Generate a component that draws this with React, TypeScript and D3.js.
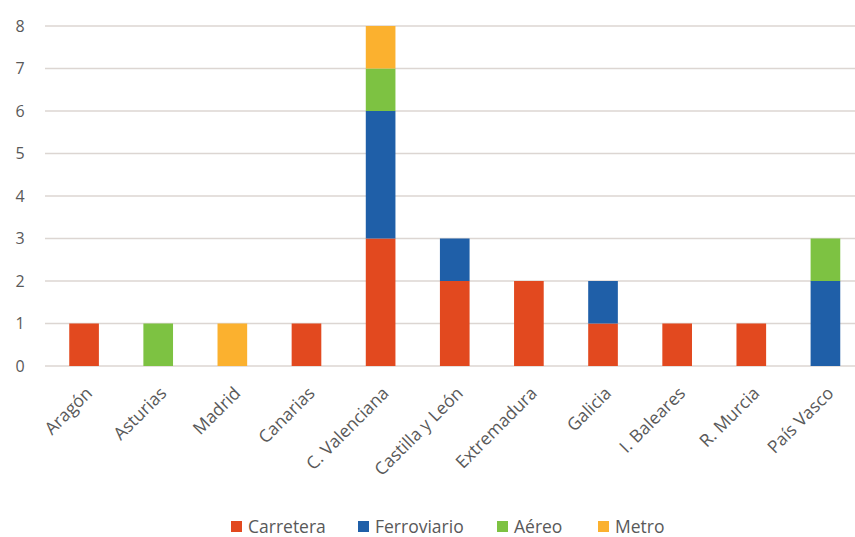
import React from "react";
import * as d3 from "d3";

const categories = ["Aragón", "Asturias", "Madrid", "Canarias", "C. Valenciana", "Castilla y León", "Extremadura", "Galicia", "I. Baleares", "R. Murcia", "País Vasco"];
const seriesNames = ["Carretera", "Ferroviario", "Aéreo", "Metro"];
const carretera = [1, 0, 0, 1, 3, 2, 2, 1, 1, 1, 0];
const ferroviario = [0, 0, 0, 0, 3, 1, 0, 1, 0, 0, 2];
const aereo = [0, 1, 0, 0, 1, 0, 0, 0, 0, 0, 1];
const metro = [0, 0, 1, 0, 1, 0, 0, 0, 0, 0, 0];
const yTicks = [0, 1, 2, 3, 4, 5, 6, 7, 8];
const colors = ["#E2491F", "#1F5FA8", "#7DC242", "#FBB12F"];

const W = 855, H = 537;
const left = 47, right = 862.5, top = 26, bottom = 366;

export default function App() {
  const x = d3.scaleBand().domain(categories).range([left, right]).paddingInner(0.6).paddingOuter(0.3);
  const y = d3.scaleLinear().domain([0, 8]).range([bottom, top]);
  const rows = categories.map((c, i) => ({ cat: c, Carretera: carretera[i], Ferroviario: ferroviario[i], "Aéreo": aereo[i], Metro: metro[i] }));
  const stacked = d3.stack<any>().keys(seriesNames)(rows);
  const font = "'Open Sans', sans-serif";
  const legendX = [231, 358, 497, 598];
  return (
    <svg width={W} height={H} style={{ position: "absolute", left: 0, top: 0, background: "#fff" }}>
      {yTicks.map((t) => (
        <g key={t}>
          <line x1={left - 2} x2={W} y1={y(t)} y2={y(t)} stroke="#dcd6d2" strokeWidth={1.3} />
          <text x={20} y={y(t)} dy="0.35em" textAnchor="middle" fontFamily={font} fontSize={16} fill="#595959">{t}</text>
        </g>
      ))}
      {stacked.map((s, si) => (
        <g key={s.key} fill={colors[si]}>
          {s.map((d, i) => d[1] > d[0] ? (
            <rect key={i} x={x(categories[i])!} width={x.bandwidth()} y={y(d[1])} height={y(d[0]) - y(d[1])} />
          ) : null)}
        </g>
      ))}
      {categories.map((c) => {
        const cx = x(c)! + x.bandwidth() / 2 + 5;
        return (
          <text key={c} transform={`translate(${cx},${bottom + 24}) rotate(-45)`} textAnchor="end" dy="0.35em" fontFamily={font} fontSize={17.5} fill="#595959">{c}</text>
        );
      })}
      {seriesNames.map((n, i) => (
        <g key={n}>
          <rect x={legendX[i]} y={521} width={11} height={11} fill={colors[i]} />
          <text x={legendX[i] + 17} y={527} dy="0.35em" fontFamily={font} fontSize={17.5} fill="#595959">{n}</text>
        </g>
      ))}
    </svg>
  );
}
